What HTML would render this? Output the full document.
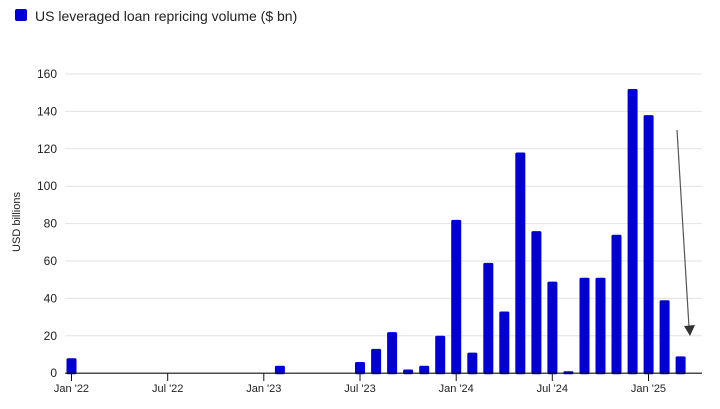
<!DOCTYPE html>
<html><head><meta charset="utf-8"><style>
body{margin:0;background:#fff;}
svg{display:block;font-family:"Liberation Sans",sans-serif;}
</style></head><body>
<svg width="720" height="409" viewBox="0 0 720 409">
<rect x="15" y="9" width="12" height="12" rx="2" fill="#0000d4"/>
<text x="35" y="21" font-size="14" fill="#222">US leveraged loan repricing volume ($ bn)</text>
<g stroke="#e2e2e2" stroke-width="1">
<line x1="65" x2="702" y1="74" y2="74"/><line x1="65" x2="702" y1="111.4" y2="111.4"/>
<line x1="65" x2="702" y1="148.8" y2="148.8"/><line x1="65" x2="702" y1="186.2" y2="186.2"/>
<line x1="65" x2="702" y1="223.6" y2="223.6"/><line x1="65" x2="702" y1="261" y2="261"/>
<line x1="65" x2="702" y1="298.4" y2="298.4"/><line x1="65" x2="702" y1="335.8" y2="335.8"/>
</g>
<g font-size="12" fill="#222" text-anchor="end">
<text x="57" y="78">160</text><text x="57" y="115.4">140</text><text x="57" y="152.8">120</text>
<text x="57" y="190.2">100</text><text x="57" y="227.6">80</text><text x="57" y="265">60</text>
<text x="57" y="302.4">40</text><text x="57" y="339.8">20</text><text x="57" y="377.2">0</text>
</g>
<text transform="translate(20,222) rotate(-90)" font-size="11" fill="#222" text-anchor="middle">USD billions</text>
<g fill="#0000d4">
<rect x="66.5" y="358.2" width="10" height="16" rx="1.5"/>
<rect x="274.9" y="365.7" width="10" height="8.5" rx="1.5"/>
<rect x="355.0" y="362.0" width="10" height="12.2" rx="1.5"/>
<rect x="371.1" y="348.9" width="10" height="25.3" rx="1.5"/>
<rect x="387.1" y="332.1" width="10" height="42.1" rx="1.5"/>
<rect x="403.1" y="369.5" width="10" height="4.7" rx="1.5"/>
<rect x="419.2" y="365.7" width="10" height="8.5" rx="1.5"/>
<rect x="435.2" y="335.8" width="10" height="38.4" rx="1.5"/>
<rect x="451.2" y="219.9" width="10" height="154.3" rx="1.5"/>
<rect x="467.3" y="352.6" width="10" height="21.6" rx="1.5"/>
<rect x="483.3" y="262.9" width="10" height="111.3" rx="1.5"/>
<rect x="499.3" y="311.5" width="10" height="62.7" rx="1.5"/>
<rect x="515.3" y="152.5" width="10" height="221.7" rx="1.5"/>
<rect x="531.4" y="231.1" width="10" height="143.1" rx="1.5"/>
<rect x="547.4" y="281.6" width="10" height="92.6" rx="1.5"/>
<rect x="563.4" y="371.3" width="10" height="2.9" rx="1"/>
<rect x="579.5" y="277.8" width="10" height="96.4" rx="1.5"/>
<rect x="595.5" y="277.8" width="10" height="96.4" rx="1.5"/>
<rect x="611.5" y="234.8" width="10" height="139.4" rx="1.5"/>
<rect x="627.6" y="89.0" width="10" height="285.2" rx="1.5"/>
<rect x="643.6" y="115.1" width="10" height="259.1" rx="1.5"/>
<rect x="659.6" y="300.3" width="10" height="73.9" rx="1.5"/>
<rect x="675.6" y="356.4" width="10" height="17.8" rx="1.5"/>
</g>
<line x1="65" x2="702" y1="373.2" y2="373.2" stroke="#111" stroke-width="1.2"/>
<g stroke="#111" stroke-width="1">
<line x1="71.5" x2="71.5" y1="373" y2="381"/><line x1="167.7" x2="167.7" y1="373" y2="381"/>
<line x1="263.8" x2="263.8" y1="373" y2="381"/><line x1="360" x2="360" y1="373" y2="381"/>
<line x1="456.2" x2="456.2" y1="373" y2="381"/><line x1="552.3" x2="552.3" y1="373" y2="381"/>
<line x1="648.5" x2="648.5" y1="373" y2="381"/>
</g>
<g font-size="11" fill="#222" text-anchor="middle">
<text x="71.5" y="392">Jan '22</text><text x="167.7" y="392">Jul '22</text>
<text x="263.8" y="392">Jan '23</text><text x="360" y="392">Jul '23</text>
<text x="456.2" y="392">Jan '24</text><text x="552.3" y="392">Jul '24</text>
<text x="648.5" y="392">Jan '25</text>
</g>
<line x1="677" y1="130" x2="689" y2="327" stroke="#555" stroke-width="1.2"/>
<polygon points="684,326 695,325 690,336" fill="#333"/>
</svg>
</body></html>
